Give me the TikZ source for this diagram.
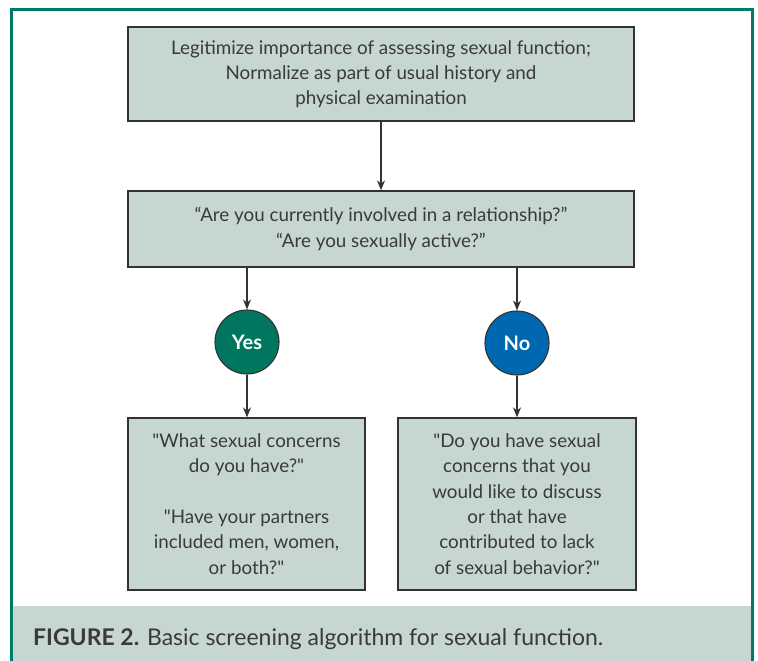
\documentclass[tikz,border=0pt]{standalone}
\usepackage{fontspec}
\setmainfont{Lato}[Ligatures=TeXOff]
\usetikzlibrary{arrows.meta,calc}
\definecolor{boxfill}{HTML}{C6D6D2}
\definecolor{framegreen}{HTML}{007A68}
\definecolor{yesgreen}{HTML}{00765F}
\definecolor{noblue}{HTML}{0067B1}
\definecolor{txt}{HTML}{3A3A3A}
\definecolor{edge}{HTML}{333333}
\tikzset{
  flowbox/.style={draw=edge, line width=1.3pt, fill=boxfill, text=txt, align=center, inner sep=0pt,
    font=\fontsize{18.8}{25.3}\selectfont},
  answer/.style={circle, draw=edge, line width=1.1pt, minimum size=64pt, inner sep=0pt, text=white,
    font=\fontsize{20}{22}\selectfont\bfseries},
  flowarrow/.style={draw=edge, line width=1.1pt, -{Stealth[length=10pt,width=8pt]}}
}
\begin{document}
\begin{tikzpicture}[x=1pt,y=1pt]
\useasboundingbox (0,0) rectangle (758,-661);
\clip (0,0) rectangle (758,-661);
% caption band and frame
\fill[boxfill] (12,-606) rectangle (751,-670);
\draw[framegreen, line width=3pt] (11,-9.5) rectangle (752,-690);
\node[anchor=base west, text=txt, font=\fontsize{23}{26}\selectfont, inner sep=0pt] (cap) at (33,-645)
  {\textbf{FIGURE 2.} Basic screening algorithm for sexual function.};
% boxes
\node[flowbox, minimum width=506pt, minimum height=94pt] (b1) at (381,-74)
  {Legitimize importance of assessing sexual function;\\Normalize as part of usual history and\\physical examination};
\node[flowbox, minimum width=506pt, minimum height=76pt] (b2) at (381,-229)
  {“Are you currently involved in a relationship?”\\“Are you sexually active?”};
\node[answer, fill=yesgreen] (yes) at (247,-342) {Yes};
\node[answer, fill=noblue] (no) at (517,-343) {No};
\node[flowbox, minimum width=237pt, minimum height=172pt] (b3) at (246.5,-504)
  {"What sexual concerns\\do you have?"\\[25.3pt]"Have your partners\\included men, women,\\or both?"};
\node[flowbox, minimum width=238pt, minimum height=172pt] (b4) at (517,-504)
  {"Do you have sexual\\concerns that you\\would like to discuss\\or that have\\contributed to lack\\of sexual behavior?"};
% connectors
\draw[flowarrow] (b1.south) -- (b2.north);
\draw[flowarrow] (b2.south -| yes.north) -- (yes.north);
\draw[flowarrow] (b2.south -| no.north) -- (no.north);
\draw[flowarrow] (yes.south) -- (yes.south |- b3.north);
\draw[flowarrow] (no.south) -- (no.south |- b4.north);
\end{tikzpicture}
\end{document}
